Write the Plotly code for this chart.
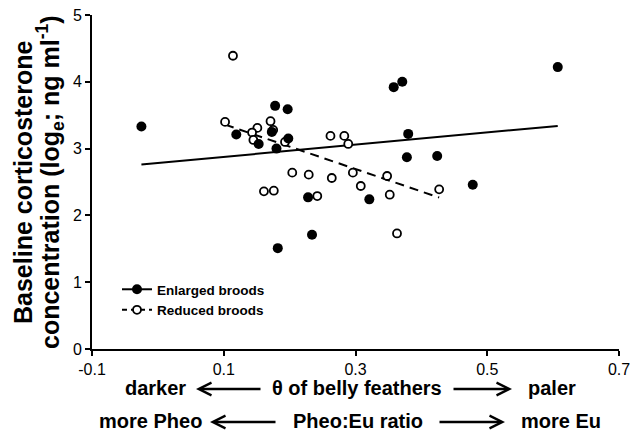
import plotly.graph_objects as go

# ---- data ----
enl_x = [-0.025, 0.178, 0.197, 0.119, 0.173, 0.153, 0.198, 0.180, 0.228, 0.321,
         0.234, 0.182, 0.607, 0.358, 0.371, 0.380, 0.378, 0.424, 0.478]
enl_y = [3.33, 3.64, 3.59, 3.21, 3.25, 3.07, 3.15, 3.00, 2.27, 2.24,
         1.71, 1.51, 4.22, 3.92, 4.00, 3.22, 2.87, 2.89, 2.46]
red_x = [0.114, 0.102, 0.151, 0.143, 0.171, 0.175, 0.145, 0.193, 0.262, 0.283,
         0.289, 0.204, 0.229, 0.264, 0.296, 0.348, 0.308, 0.352, 0.161, 0.176,
         0.242, 0.427, 0.363]
red_y = [4.39, 3.40, 3.31, 3.24, 3.41, 3.28, 3.13, 3.10, 3.19, 3.19,
         3.07, 2.64, 2.61, 2.56, 2.64, 2.59, 2.44, 2.31, 2.36, 2.37,
         2.29, 2.39, 1.73]
# regression fits: intercept, slope
enl_fit = [2.785, 0.913]
red_fit = [3.702, -3.36]
x_ticks = [-0.1, 0.1, 0.3, 0.5, 0.7]
y_ticks = [0, 1, 2, 3, 4, 5]
series_names = ["Enlarged broods", "Reduced broods"]
y_title = ["Baseline corticosterone", "concentration (log<sub>e</sub>; ng ml<sup>-1</sup>)"]
row1 = ["darker", "θ of belly feathers", "paler"]
row2 = ["more Pheo", "Pheo:Eu ratio", "more Eu"]

FONT = "Liberation Sans, Arial, sans-serif"
W, H = 630, 435
L, R, T, B = 92, 11, 15, 86
PW, PH = W - L - R, H - T - B


def px2x(px):
    return (px - L) / PW


def py2y(py):
    return (H - B - py) / PH


def fit_line(xs, fit):
    lo, hi = min(xs), max(xs)
    return [lo, hi], [fit[0] + fit[1] * lo, fit[0] + fit[1] * hi]


fig = go.Figure()

lx, ly = fit_line(enl_x, enl_fit)
fig.add_trace(go.Scatter(x=lx, y=ly, mode="lines", line=dict(color="black", width=2),
                         showlegend=False, hoverinfo="skip"))
lx, ly = fit_line(red_x, red_fit)
fig.add_trace(go.Scatter(x=lx, y=ly, mode="lines",
                         line=dict(color="black", width=2, dash="9px,6px"),
                         showlegend=False, hoverinfo="skip"))

fig.add_trace(go.Scatter(x=red_x, y=red_y, mode="markers", showlegend=False,
                         marker=dict(size=8, color="white",
                                     line=dict(color="black", width=1.8))))
fig.add_trace(go.Scatter(x=enl_x, y=enl_y, mode="markers", showlegend=False,
                         marker=dict(size=10, color="black",
                                     line=dict(color="black", width=0))))

# legend entries
fig.add_trace(go.Scatter(x=[None], y=[None], mode="lines+markers",
                         name="<b>" + series_names[0] + "</b>",
                         line=dict(color="black", width=2),
                         marker=dict(size=10, color="black")))
fig.add_trace(go.Scatter(x=[None], y=[None], mode="lines+markers",
                         name="<b>" + series_names[1] + "</b>",
                         line=dict(color="black", width=2, dash="5px,4px"),
                         marker=dict(size=8, color="white",
                                     line=dict(color="black", width=1.8))))

ann = []
# y-axis title (two rotated lines)
for txt, cx in zip(y_title, [23, 50]):
    ann.append(dict(text="<b>" + txt + "</b>", textangle=-90, xref="paper", yref="paper",
                    x=px2x(cx), y=py2y(182), xanchor="center", yanchor="middle",
                    showarrow=False, font=dict(family=FONT, size=25, color="black")))

# bottom rows of text with arrows
text_font = dict(family=FONT, size=20, color="black")
rows = [(row1, 388, [155, 357, 552], [(196, 262), (452, 512)]),
        (row2, 421, [150, 358, 561], [(210, 277), (438, 505)])]
for texts, py, cxs, arrows in rows:
    for t, cx in zip(texts, cxs):
        ann.append(dict(text="<b>" + t + "</b>", xref="paper", yref="paper",
                        x=px2x(cx), y=py2y(py), xanchor="center", yanchor="middle",
                        showarrow=False, font=text_font))
    (a0, a1), (b0, b1) = arrows
    # left-pointing arrow
    ann.append(dict(text="", xref="paper", yref="paper", x=px2x(a0), y=py2y(py + 1),
                    ax=a1 - a0, ay=0, axref="pixel", ayref="pixel", showarrow=True,
                    arrowhead=5, arrowsize=1.0, arrowwidth=2.5, arrowcolor="black",
                    standoff=0, startstandoff=0))
    # right-pointing arrow
    ann.append(dict(text="", xref="paper", yref="paper", x=px2x(b1), y=py2y(py + 1),
                    ax=b0 - b1, ay=0, axref="pixel", ayref="pixel", showarrow=True,
                    arrowhead=5, arrowsize=1.0, arrowwidth=2.5, arrowcolor="black",
                    standoff=0, startstandoff=0))

fig.update_layout(
    width=W, height=H,
    margin=dict(l=L, r=R, t=T, b=B, pad=0, autoexpand=False),
    paper_bgcolor="white", plot_bgcolor="white",
    font=dict(family=FONT, size=16, color="black"),
    showlegend=True,
    legend=dict(x=px2x(117), y=py2y(274), xanchor="left", yanchor="top",
                bgcolor="rgba(0,0,0,0)", borderwidth=0,
                font=dict(family=FONT, size=13.5, color="black"),
                tracegroupgap=0, itemwidth=30),
    annotations=ann,
)
fig.update_xaxes(range=[-0.1, 0.700001], tickvals=x_ticks, ticktext=[str(v) for v in x_ticks],
                 ticklabeloverflow="allow", automargin=False,
                 showgrid=False, zeroline=False, showline=True, linecolor="black",
                 linewidth=2, ticks="outside", ticklen=5, tickwidth=2, tickcolor="black",
                 tickfont=dict(family=FONT, size=16, color="black"))
fig.update_yaxes(range=[0, 5], tickvals=y_ticks, automargin=False,
                 showgrid=False, zeroline=False, showline=True, linecolor="black",
                 linewidth=2, ticks="outside", ticklen=5, tickwidth=2, tickcolor="black",
                 tickfont=dict(family=FONT, size=16, color="black"))

fig.write_html("out.html", config={"displayModeBar": False},
               post_script="document.body.style.margin='0px';document.body.style.overflow='hidden';")
